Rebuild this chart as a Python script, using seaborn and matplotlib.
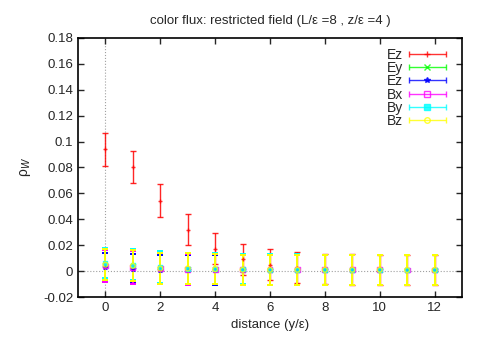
import numpy as np
import pandas as pd
import matplotlib
matplotlib.use('Agg')
import matplotlib.pyplot as plt
from matplotlib.container import ErrorbarContainer
from matplotlib.legend_handler import HandlerErrorbar
import seaborn as sns

# distances and measured flux components (value, error)
dist = list(range(13))
labels = ['Ez', 'Ey', 'Ez', 'Bx', 'By', 'Bz']
colors = ['#ff0000', '#00ff00', '#0000ff', '#ff00ff', '#00ffff', '#ffff00']
markers = ['+', 'x', '*', 's', 's', 'o']
filled = [True, True, True, False, True, False]

ez_long = [0.094, 0.0805, 0.0545, 0.032, 0.0172, 0.009, 0.0048, 0.0025, 0.0015, 0.0012, 0.0010, 0.0008, 0.0008]
ez_long_err = [0.0125, 0.0125, 0.0125, 0.0122, 0.012, 0.012, 0.012, 0.012, 0.0118, 0.0118, 0.0118, 0.0118, 0.0118]
ey = [0.005, 0.004, 0.002, 0.002, 0.0015, 0.001, 0.001, 0.001, 0.001, 0.001, 0.001, 0.0008, 0.0008]
ey_err = [0.012, 0.012, 0.012, 0.012, 0.0118, 0.0118, 0.0118, 0.0118, 0.0118, 0.0118, 0.0118, 0.0118, 0.0118]
ez = [0.003, 0.002, 0.001, 0.001, 0.001, 0.0008, 0.0008, 0.0008, 0.0008, 0.0008, 0.0008, 0.0006, 0.0006]
ez_err = [0.0112, 0.0112, 0.0112, 0.0115, 0.0115, 0.0115, 0.0115, 0.0115, 0.0115, 0.0115, 0.0115, 0.0115, 0.0115]
bx = [0.004, 0.003, 0.002, 0.0015, 0.0015, 0.001, 0.001, 0.001, 0.001, 0.001, 0.001, 0.0008, 0.0008]
bx_err = [0.0126, 0.0126, 0.0122, 0.012, 0.0118, 0.0118, 0.0118, 0.0118, 0.0118, 0.0118, 0.0118, 0.0118, 0.0118]
by = [0.006, 0.005, 0.003, 0.002, 0.002, 0.0015, 0.0012, 0.0012, 0.001, 0.001, 0.001, 0.001, 0.001]
by_err = [0.0117, 0.0122, 0.0122, 0.012, 0.0118, 0.0118, 0.0118, 0.0118, 0.0118, 0.0118, 0.0118, 0.0118, 0.0118]
bz = [0.005, 0.004, 0.002, 0.002, 0.0015, 0.001, 0.001, 0.001, 0.001, 0.001, 0.001, 0.0008, 0.0008]
bz_err = [0.012, 0.012, 0.012, 0.012, 0.0118, 0.0118, 0.0118, 0.0118, 0.0118, 0.0118, 0.0118, 0.0118, 0.0118]

values = [ez_long, ey, ez, bx, by, bz]
errors = [ez_long_err, ey_err, ez_err, bx_err, by_err, bz_err]

sns.set_style('ticks')
plt.rcParams['font.family'] = ['Liberation Sans', 'DejaVu Sans']

fig = plt.figure(figsize=(4.83, 3.38), dpi=100)
ax = fig.add_axes([0.1615, 0.1213, 0.795, 0.7663])

ax.axhline(0, color='#a0a0a0', lw=0.8, ls=':', zorder=0)
ax.axvline(0, color='#a0a0a0', lw=0.8, ls=':', zorder=0)

for i, (lab, col, mk, fl, val, err) in enumerate(zip(labels, colors, markers, filled, values, errors)):
    df = pd.DataFrame({'d': dist, 'v': val, 'e': err})
    lw = 1.0 if i == 0 else 1.4
    ax.errorbar(df['d'], df['v'], yerr=df['e'], fmt='none', ecolor=col,
                elinewidth=lw, capsize=2.5, capthick=lw, alpha=0.85 if i == 0 else 1)
    sns.scatterplot(data=df, x='d', y='v', ax=ax, marker=mk, s=12, legend=False,
                    color=col if fl else 'none', edgecolor=col,
                    linewidth=1, zorder=3, alpha=0.8)

# legend proxies: horizontal errorbar samples like gnuplot's key
handles = []
for lab, col, mk, fl in zip(labels, colors, markers, filled):
    h = ax.errorbar([np.nan], [np.nan], xerr=[1], fmt=mk, color=col, ecolor=col,
                    mfc=col if fl else 'none', mec=col, ms=4,
                    elinewidth=1, capsize=2.5, capthick=1, alpha=0.8, label=lab)
    handles.append(h)
leg = ax.legend(handles=handles, loc='upper right', frameon=False, markerfirst=False,
                fontsize=10, handlelength=2.75, handletextpad=0.4, labelspacing=-0.05,
                borderaxespad=0.3, bbox_to_anchor=(0.985, 1.0),
                handler_map={ErrorbarContainer: HandlerErrorbar(xerr_size=1.35)})

ax.set_xlim(-1, 13)
ax.set_ylim(-0.02, 0.18)
ax.set_xticks([0, 2, 4, 6, 8, 10, 12])
ax.set_yticks(np.arange(-0.02, 0.181, 0.02))
ax.set_yticklabels(['-0.02', '0', '0.02', '0.04', '0.06', '0.08', '0.1', '0.12', '0.14', '0.16', '0.18'])
ax.tick_params(direction='in', top=True, right=True, length=4, width=1, labelsize=9.5)
for sp in ax.spines.values():
    sp.set_linewidth(1.2)
    sp.set_color('black')

ax.set_title('color flux: restricted field (L/ε =8 , z/ε =4 )', fontsize=9.5, pad=10)
ax.set_xlabel('distance (y/ε)', fontsize=9.5)
ax.set_ylabel(r'ρ$_W$', fontsize=10, labelpad=7)

plt.savefig('out.png', dpi=100)
